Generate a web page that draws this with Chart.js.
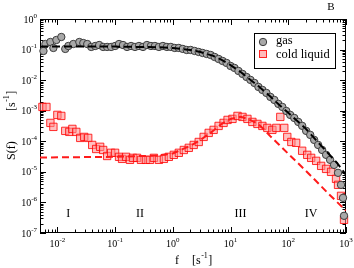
<!DOCTYPE html>
<html>
<head>
<meta charset="utf-8">
<script src="https://cdn.jsdelivr.net/npm/chart.js@4.4.0/dist/chart.umd.min.js"></script>
<style>
  html, body { margin: 0; padding: 0; background: #fff; }
  #wrap { width: 354px; height: 268px; position: relative; }
</style>
</head>
<body>
<div id="wrap"><canvas id="chart"></canvas></div>
<script>
// ********** DATA ***********
// gas, measured spectrum
let gasFreq = [0.00574, 0.00621, 0.00757, 0.00853, 0.00961, 0.0117, 0.0137, 0.0155, 0.0189, 0.0240,
  0.0281, 0.0329, 0.0386, 0.0452, 0.0530, 0.0621, 0.0728, 0.0854, 0.100, 0.117,
  0.137, 0.161, 0.189, 0.221, 0.259, 0.304, 0.356, 0.418, 0.490, 0.574,
  0.673, 0.789, 0.925, 1.08, 1.27, 1.49, 1.74, 2.04, 2.39, 2.81,
  3.29, 3.86, 4.52, 5.30, 6.21, 7.28, 8.53, 10.0, 11.7, 13.7,
  16.1, 18.9, 22.1, 25.9, 30.4, 35.6, 41.8, 49.0, 57.4, 67.3,
  78.9, 92.4, 108, 127, 149, 174, 204, 240, 281, 329,
  386, 452, 530, 621, 728, 820, 888, 924];
let gasS = [0.090, 0.152, 0.177, 0.113, 0.206, 0.258, 0.105, 0.131, 0.152, 0.177,
  0.164, 0.152, 0.122, 0.131, 0.141, 0.122, 0.122, 0.122, 0.131, 0.152,
  0.141, 0.122, 0.131, 0.122, 0.131, 0.122, 0.141, 0.131, 0.131, 0.122,
  0.131, 0.122, 0.122, 0.113, 0.113, 0.105, 0.097, 0.097, 0.090, 0.0835,
  0.0774, 0.0718, 0.0666, 0.0573, 0.0493, 0.0424, 0.0365, 0.0291, 0.0251, 0.0200,
  0.0160, 0.0127, 0.0102, 0.0081, 0.0060, 0.00479, 0.00382, 0.00283, 0.00225, 0.00167,
  0.00133, 0.00098, 0.00073, 0.00058, 0.00043, 0.00032, 2.19e-4, 1.62e-4, 1.11e-4, 7.6e-5,
  5.2e-5, 3.6e-5, 2.47e-5, 1.69e-5, 9.3e-6, 3.76e-6, 1.41e-6, 3.65e-7];

// cold liquid, measured spectrum
let liqFreq = [0.00551, 0.00646, 0.00757, 0.00853, 0.0100, 0.0117, 0.0137, 0.0161, 0.0182, 0.0213,
  0.0249, 0.0292, 0.0342, 0.0401, 0.0470, 0.0551, 0.0621, 0.0728, 0.0854, 0.100,
  0.117, 0.132, 0.155, 0.181, 0.204, 0.240, 0.281, 0.342, 0.401, 0.470,
  0.574, 0.700, 0.853, 1.04, 1.27, 1.55, 1.89, 2.30, 2.81, 3.42,
  4.18, 5.09, 6.21, 7.57, 8.88, 10.8, 13.2, 16.1, 19.6, 23.9,
  29.2, 35.6, 43.4, 53.0, 62.1, 72.8, 85.3, 96.1, 113, 137,
  174, 213, 249, 304, 371, 452, 551, 672, 728, 820, 924];
let liqS = [0.00133, 0.00133, 3.99e-4, 2.96e-4, 7.3e-4, 6.76e-4, 2.19e-4, 2.03e-4, 2.54e-4, 2.03e-4,
  1.29e-4, 1.39e-4, 1.29e-4, 7.6e-5, 5.6e-5, 6.6e-5, 5.2e-5, 3.3e-5, 4.2e-5, 4.2e-5,
  3.1e-5, 2.66e-5, 3.1e-5, 2.47e-5, 2.87e-5, 2.87e-5, 2.47e-5, 2.47e-5, 2.47e-5, 2.87e-5,
  2.47e-5, 2.66e-5, 3.1e-5, 3.6e-5, 4.2e-5, 5.2e-5, 6.1e-5, 7.6e-5, 9.5e-5, 1.39e-4,
  1.88e-4, 2.36e-4, 3.18e-4, 3.99e-4, 5.0e-4, 5.4e-4, 6.76e-4, 6.27e-4, 5.4e-4, 4.3e-4,
  3.7e-4, 3.18e-4, 2.74e-4, 2.36e-4, 2.74e-4, 6.27e-4, 2.74e-4, 1.39e-4, 9.5e-5, 8.9e-5,
  4.9e-5, 3.6e-5, 2.87e-5, 2.29e-5, 1.57e-5, 1.25e-5, 1.0e-5, 5.9e-6, 3.76e-6, 1.64e-6, 2.7e-7];

// dashed curves
let gasFitFreq = [0.005, 0.1, 0.5, 1, 2, 3, 5, 7, 10, 15, 20, 30, 50, 70, 100, 150, 200, 300, 500, 700, 1000];
let gasFitS = [0.125, 0.125, 0.12, 0.113, 0.097, 0.0835, 0.062, 0.046, 0.031, 0.0185, 0.0118, 0.0065,
  0.0028, 0.00154, 0.00085, 0.00043, 0.00026, 0.000111, 3.9e-5, 1.95e-5, 8e-6];
let liqFitFreq = [0.005, 0.1, 0.5, 1, 2, 3, 5, 7, 10, 15, 20, 30, 40, 50, 70, 100, 200, 300, 500, 1000];
let liqFitS = [2.95e-5, 3.1e-5, 3.4e-5, 4.0e-5, 7.1e-5, 1.1e-4, 2.2e-4, 3.7e-4, 5.4e-4, 6.3e-4, 5.4e-4,
  3.7e-4, 2.2e-4, 1.4e-4, 7.6e-5, 3.9e-5, 1.1e-5, 5.1e-6, 1.9e-6, 5.4e-7];

// axes and labels
let xTickExps = [-2, -1, 0, 1, 2, 3];
let yTickExps = [0, -1, -2, -3, -4, -5, -6, -7];
let regionLabels = ['I', 'II', 'III', 'IV'];
let regionFreqs = [0.0155, 0.27, 14.9, 249];
let seriesNames = ['gas', 'cold liquid'];

// ********** HELPERS ***********
const SERIF = '"Liberation Serif", "DejaVu Serif", serif';

function toPoints(xs, ys) {
  return xs.map((x, i) => ({ x: x, y: ys[i] }));
}

// draws "10" with a raised exponent
function drawPow(ctx, exp, x, y, align) {
  ctx.font = '10px ' + SERIF;
  let wb = ctx.measureText('10').width;
  ctx.font = '7px ' + SERIF;
  let we = ctx.measureText(String(exp)).width;
  let x0 = align === 'right' ? x - wb - we : x - (wb + we) / 2;
  ctx.textAlign = 'left';
  ctx.textBaseline = 'alphabetic';
  ctx.font = '10px ' + SERIF;
  ctx.fillText('10', x0, y);
  ctx.font = '7px ' + SERIF;
  ctx.fillText(String(exp), x0 + wb, y - 5);
}

// "[s^-1]" unit, left aligned at x
function drawUnit(ctx, x, y) {
  ctx.textAlign = 'left';
  ctx.textBaseline = 'alphabetic';
  ctx.font = '12px ' + SERIF;
  ctx.fillText('[s', x, y);
  let w1 = ctx.measureText('[s').width;
  ctx.font = '8px ' + SERIF;
  ctx.fillText('-1', x + w1 + 0.5, y - 6);
  let w2 = ctx.measureText('-1').width;
  ctx.font = '12px ' + SERIF;
  ctx.fillText(']', x + w1 + w2 + 1, y);
  return w1 + w2 + 1 + ctx.measureText(']').width;
}

// ********** PLUGINS ***********
const frame = {
  id: 'frame',
  beforeDatasetsDraw(chart) {
    const { ctx, chartArea: a, scales: { x, y } } = chart;
    ctx.save();
    ctx.strokeStyle = '#000';
    ctx.lineWidth = 1;
    ctx.strokeRect(a.left + 0.5, a.top + 0.5, a.right - a.left - 1, a.bottom - a.top - 1);
    ctx.beginPath();
    for (let e = -3; e <= 3; e++) {
      for (let m = 1; m <= 9; m++) {
        let v = m * Math.pow(10, e);
        if (v < x.min || v > x.max) continue;
        let px = Math.round(x.getPixelForValue(v)) + 0.5;
        let len = m === 1 ? 6 : 3.5;
        ctx.moveTo(px, a.bottom); ctx.lineTo(px, a.bottom - len);
        ctx.moveTo(px, a.top); ctx.lineTo(px, a.top + len);
      }
    }
    for (let e = -8; e <= 0; e++) {
      for (let m = 1; m <= 9; m++) {
        let v = m * Math.pow(10, e);
        if (v < y.min || v > y.max) continue;
        let py = Math.round(y.getPixelForValue(v)) + 0.5;
        let len = m === 1 ? 6 : 3.5;
        ctx.moveTo(a.left, py); ctx.lineTo(a.left + len, py);
        ctx.moveTo(a.right, py); ctx.lineTo(a.right - len, py);
      }
    }
    ctx.stroke();
    ctx.restore();
  },
  afterDraw(chart) {
    const { ctx, chartArea: a, scales: { x, y } } = chart;
    ctx.save();
    ctx.fillStyle = '#000';
    xTickExps.forEach(e => drawPow(ctx, e, x.getPixelForValue(Math.pow(10, e)), a.bottom + 14, 'center'));
    yTickExps.forEach(e => drawPow(ctx, e, a.left - 3, y.getPixelForValue(Math.pow(10, e)) + 3.5, 'right'));

    // region numerals
    ctx.font = '12px ' + SERIF;
    ctx.textAlign = 'center';
    ctx.textBaseline = 'middle';
    regionLabels.forEach((t, i) => ctx.fillText(t, x.getPixelForValue(regionFreqs[i]), a.bottom - 19));

    // x title
    ctx.font = '12px ' + SERIF;
    ctx.textAlign = 'left';
    ctx.textBaseline = 'alphabetic';
    ctx.fillText('f', 175, 264);
    drawUnit(ctx, 192, 264);

    // y title, rotated
    ctx.save();
    ctx.translate(15, 0);
    ctx.rotate(-Math.PI / 2);
    ctx.font = '12px ' + SERIF;
    ctx.fillText('S(f)', -160, 0);
    drawUnit(ctx, -111, 0);
    ctx.restore();

    // panel letter
    ctx.font = '11px ' + SERIF;
    ctx.textAlign = 'center';
    ctx.fillText('B', 331, 10);

    // legend
    let lx = 254, ly = 33, lw = 81, lh = 35;
    ctx.fillStyle = '#fff';
    ctx.fillRect(lx, ly, lw, lh);
    ctx.strokeStyle = '#000';
    ctx.lineWidth = 1;
    ctx.strokeRect(lx + 0.5, ly + 0.5, lw, lh);
    ctx.beginPath();
    ctx.arc(263, 42, 3.7, 0, Math.PI * 2);
    ctx.fillStyle = '#a8a8a8';
    ctx.fill();
    ctx.strokeStyle = '#3c3c3c';
    ctx.stroke();
    ctx.fillStyle = 'rgba(255,140,140,0.6)';
    ctx.fillRect(259.5, 50.5, 7, 7);
    ctx.strokeStyle = 'rgba(255,0,0,0.85)';
    ctx.strokeRect(259.5, 50.5, 7, 7);
    ctx.fillStyle = '#000';
    ctx.font = '12.5px ' + SERIF;
    ctx.textAlign = 'left';
    ctx.textBaseline = 'middle';
    ctx.fillText(seriesNames[0], 276, 41);
    ctx.fillText(seriesNames[1], 276, 55);
    ctx.restore();
  }
};

// ********** CHART ***********
new Chart(document.getElementById('chart'), {
  type: 'scatter',
  data: {
    datasets: [
      {
        label: 'gas fit',
        data: toPoints(gasFitFreq, gasFitS),
        showLine: true,
        pointRadius: 0,
        borderColor: '#000',
        borderWidth: 2,
        borderDash: [8, 4],
        order: 0
      },
      {
        label: 'cold liquid fit',
        data: toPoints(liqFitFreq, liqFitS),
        showLine: true,
        pointRadius: 0,
        borderColor: '#ff1a1a',
        borderWidth: 2,
        borderDash: [7, 4],
        order: 1
      },
      {
        label: seriesNames[0],
        data: toPoints(gasFreq, gasS),
        pointStyle: 'circle',
        pointRadius: 3.7,
        backgroundColor: '#a8a8a8',
        borderColor: '#3c3c3c',
        borderWidth: 1,
        clip: false,
        order: 2
      },
      {
        label: seriesNames[1],
        data: toPoints(liqFreq, liqS),
        pointStyle: 'rect',
        pointRadius: 5.2,
        backgroundColor: 'rgba(255,140,140,0.55)',
        borderColor: 'rgba(255,0,0,0.8)',
        borderWidth: 1,
        clip: false,
        order: 3
      }
    ]
  },
  options: {
    responsive: true,
    maintainAspectRatio: false,
    animation: false,
    devicePixelRatio: 1,
    layout: { padding: { left: 40, top: 19, right: 8, bottom: 35 } },
    scales: {
      x: { type: 'logarithmic', min: 0.005, max: 1000, display: false },
      y: { type: 'logarithmic', min: 1e-7, max: 1, display: false }
    },
    plugins: {
      legend: { display: false },
      tooltip: { enabled: false }
    },
    events: []
  },
  plugins: [frame]
});
</script>
</body>
</html>
